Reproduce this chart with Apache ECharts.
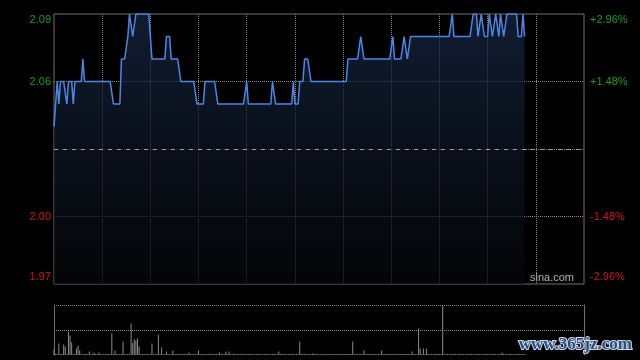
<!DOCTYPE html>
<html>
<head>
<meta charset="utf-8">
<script src="https://cdn.jsdelivr.net/npm/echarts@6/dist/echarts.min.js"></script>
<style>html,body{margin:0;padding:0;background:#000;}#c{width:640px;height:360px;}</style>
</head>
<body>
<div id="c"></div>
<script>
// ---- data ----
const prevClose = 2.03;
const priceMin = 1.97;
const priceMax = 2.09;
const priceStep = 0.03;

// minute slots 09:30-12:00 / 13:00-16:00 (12:00 & 13:00 share one slot)
const times = [];
for (let m = 0; m <= 330; m++) {
  let t = m <= 150 ? 570 + m : 780 + (m - 150);
  times.push(String(Math.floor(t / 60)).padStart(2, '0') + ':' + String(t % 60).padStart(2, '0'));
}

const prices = [
  2.04,2.05,2.06,2.05,2.06,2.06,2.06,2.06,2.05,2.06,
  2.06,2.06,2.05,2.06,2.06,2.06,2.06,2.06,2.07,2.06,
  2.06,2.06,2.06,2.06,2.06,2.06,2.06,2.06,2.06,2.06,
  2.06,2.06,2.06,2.06,2.06,2.06,2.06,2.05,2.05,2.05,
  2.05,2.05,2.07,2.07,2.07,2.07,2.08,2.09,2.09,2.08,
  2.08,2.09,2.09,2.09,2.09,2.09,2.09,2.09,2.09,2.09,
  2.08,2.07,2.07,2.07,2.07,2.07,2.07,2.07,2.07,2.07,
  2.08,2.08,2.08,2.07,2.07,2.07,2.07,2.07,2.07,2.06,
  2.06,2.06,2.06,2.06,2.06,2.06,2.06,2.06,2.06,2.05,
  2.05,2.05,2.05,2.05,2.06,2.06,2.06,2.06,2.06,2.06,
  2.06,2.06,2.05,2.05,2.05,2.05,2.05,2.05,2.05,2.05,
  2.05,2.05,2.05,2.05,2.05,2.05,2.05,2.05,2.05,2.05,
  2.06,2.05,2.05,2.05,2.05,2.05,2.05,2.05,2.05,2.05,
  2.05,2.05,2.05,2.05,2.05,2.05,2.06,2.06,2.05,2.05,
  2.05,2.05,2.05,2.05,2.05,2.05,2.05,2.05,2.05,2.06,
  2.05,2.05,2.05,2.06,2.06,2.06,2.07,2.07,2.07,2.07,
  2.06,2.06,2.06,2.06,2.06,2.06,2.06,2.06,2.06,2.06,
  2.06,2.06,2.06,2.06,2.06,2.06,2.06,2.06,2.06,2.06,
  2.06,2.06,2.06,2.07,2.07,2.07,2.07,2.07,2.07,2.07,
  2.07,2.08,2.08,2.07,2.07,2.07,2.07,2.07,2.07,2.07,
  2.07,2.07,2.07,2.07,2.07,2.07,2.07,2.07,2.07,2.07,
  2.07,2.08,2.07,2.07,2.07,2.07,2.07,2.07,2.08,2.08,
  2.07,2.07,2.08,2.08,2.08,2.08,2.08,2.08,2.08,2.08,
  2.08,2.08,2.08,2.08,2.08,2.08,2.08,2.08,2.08,2.08,
  2.08,2.08,2.08,2.08,2.08,2.08,2.08,2.08,2.09,2.08,
  2.08,2.08,2.08,2.08,2.08,2.08,2.08,2.08,2.08,2.08,
  2.08,2.09,2.09,2.09,2.08,2.08,2.09,2.09,2.08,2.08,
  2.08,2.09,2.09,2.08,2.08,2.09,2.09,2.08,2.09,2.09,
  2.08,2.08,2.09,2.09,2.09,2.09,2.09,2.09,2.09,2.08,
  2.08,2.08,2.09,2.08
];

const volumes = [
  11,2,2,23,2,2,21,17,2,47,
  39,25,2,2,13,19,9,2,2,2,
  2,2,7,2,2,5,2,2,5,2,
  2,2,2,2,2,2,43,2,9,2,
  2,2,2,27,2,2,2,2,63,24,
  31,29,33,17,2,2,2,2,2,2,
  2,23,2,2,2,41,2,15,2,2,
  7,2,2,2,9,2,2,2,2,2,
  2,2,2,2,5,2,2,2,2,2,
  9,2,2,2,2,2,2,2,2,2,
  2,2,2,5,2,2,2,7,2,7,
  2,2,2,2,2,2,2,2,2,2,
  2,2,2,2,2,2,2,2,2,2,
  2,2,2,2,2,2,2,2,2,2,
  7,2,2,2,2,2,2,2,2,2,
  2,2,2,27,2,2,2,2,2,2,
  2,3,2,2,2,2,2,2,2,2,
  2,2,2,2,2,2,2,2,2,2,
  2,2,2,2,2,2,27,2,2,2,
  2,2,2,9,2,2,2,2,2,2,
  2,2,2,2,9,2,2,2,2,2,
  2,2,2,2,2,2,2,2,2,2,
  2,2,2,7,2,2,2,53,13,2,
  13,2,13,2,2,2,2,2,2,2,
  2,2,100,2,2,2,2,2,2,2,
  2,2,2,2,2,2,2,2,2,2,
  2,2,2,2,2,2,2,2,2,2,
  2,2,2,2,2,2,2,2,2,5,
  2,2,2,2,2,2,2,2,2,2,
  2,2,2,2
];

// ---- chart ----
const upColor = '#12a012';
const downColor = '#d41414';
const gridColor = '#8a8a8a';
const borderColor = '#707070';
const font = 'Liberation Sans, Arial, sans-serif';

function isEq(a, b) { return Math.abs(a - b) < 1e-6; }
function edgeWrap(v, s) {
  if (isEq(v, priceMax)) return '{top|' + s + '}';
  if (isEq(v, priceMin)) return '{bot|' + s + '}';
  return '{mid|' + s + '}';
}
const edgeRich = {
  top: { padding: [12, 0, 0, 0], fontSize: 11, fontFamily: font },
  bot: { padding: [0, 0, 14, 0], fontSize: 11, fontFamily: font },
  mid: { fontSize: 11, fontFamily: font }
};

const chart = echarts.init(document.getElementById('c'), null, { renderer: 'canvas' });
chart.setOption({
  backgroundColor: '#000',
  animation: false,
  title: [
    { text: 'sina.com', right: 66, top: 272,
      textStyle: { color: '#b4b4b4', fontSize: 11, fontWeight: 'normal', fontFamily: font } , padding: 0},
    { text: 'www.365jz.com', right: 6, top: 336, padding: 0,
      textStyle: { color: '#1d4f96', fontSize: 17, fontWeight: 'bold', fontFamily: 'Liberation Serif, serif',
        textBorderColor: '#d8d8d8', textBorderWidth: 2 } }
  ],
  grid: [
    { left: 54, right: 56, top: 14, height: 270, show: true, borderColor: borderColor, borderWidth: 1 },
    { left: 54, right: 56, top: 305, height: 50 }
  ],
  xAxis: [
    { type: 'category', gridIndex: 0, data: times, boundaryGap: false,
      axisLine: { show: false }, axisTick: { show: false }, axisLabel: { show: false },
      splitLine: { show: true, interval: (i) => i > 0 && i < 330 && i % 30 === 0,
        lineStyle: { color: gridColor, type: [1, 1], width: 1 } } },
    { type: 'category', gridIndex: 1, data: times, boundaryGap: false,
      axisLine: { show: false }, axisTick: { show: false }, axisLabel: { show: false },
      splitLine: { show: false } }
  ],
  yAxis: [
    { type: 'value', gridIndex: 0, position: 'left', min: priceMin, max: priceMax, interval: priceStep,
      axisLine: { show: false }, axisTick: { show: false },
      splitLine: { show: true, showMinLine: false, showMaxLine: false,
        lineStyle: { color: gridColor, type: [1, 1], width: 1 } },
      axisLabel: { margin: 3, fontSize: 11, fontFamily: font,
        color: (v) => (Number(v) >= prevClose ? upColor : downColor),
        formatter: (v) => isEq(v, prevClose) ? '' : edgeWrap(v, v.toFixed(2)),
        rich: edgeRich } },
    { type: 'value', gridIndex: 0, position: 'right', min: priceMin, max: priceMax, interval: priceStep,
      axisLine: { show: false }, axisTick: { show: false }, splitLine: { show: false },
      axisLabel: { margin: 6, fontSize: 11, fontFamily: font,
        color: (v) => (Number(v) >= prevClose ? upColor : downColor),
        formatter: (v) => {
          if (isEq(v, prevClose)) return '';
          const p = (v - prevClose) / prevClose * 100;
          return edgeWrap(v, (p > 0 ? '+' : '') + p.toFixed(2) + '%');
        },
        rich: edgeRich } },
    { type: 'value', gridIndex: 1, position: 'left', min: 0, max: (e) => e.max, splitNumber: 2,
      axisLine: { show: true, lineStyle: { color: borderColor, width: 1 } }, axisTick: { show: false },
      axisLabel: { show: false },
      splitLine: { show: true, showMinLine: false, lineStyle: { color: gridColor, type: [1, 1], width: 1 } } },
    { type: 'value', gridIndex: 1, position: 'right', min: 0, max: (e) => e.max, splitNumber: 2,
      axisLine: { show: true, lineStyle: { color: borderColor, width: 1 } }, axisTick: { show: false },
      axisLabel: { show: false }, splitLine: { show: false } }
  ],
  series: [
    { type: 'line', xAxisIndex: 0, yAxisIndex: 0, data: prices, showSymbol: false, symbol: 'none',
      lineStyle: { color: '#4a88e6', width: 1.5 },
      areaStyle: { origin: 'start', color: new echarts.graphic.LinearGradient(0, 0, 0, 1, [
        { offset: 0, color: '#172845' }, { offset: 1, color: '#050608' }]) },
      markLine: { silent: true, symbol: 'none', label: { show: false },
        lineStyle: { color: '#a0a0a0', type: [4, 5], width: 1 },
        data: [{ yAxis: prevClose }] } },
    { type: 'bar', xAxisIndex: 1, yAxisIndex: 2, data: volumes, barWidth: 1,
      itemStyle: { color: '#8c8c8c' } }
  ]
});
</script>
</body>
</html>
